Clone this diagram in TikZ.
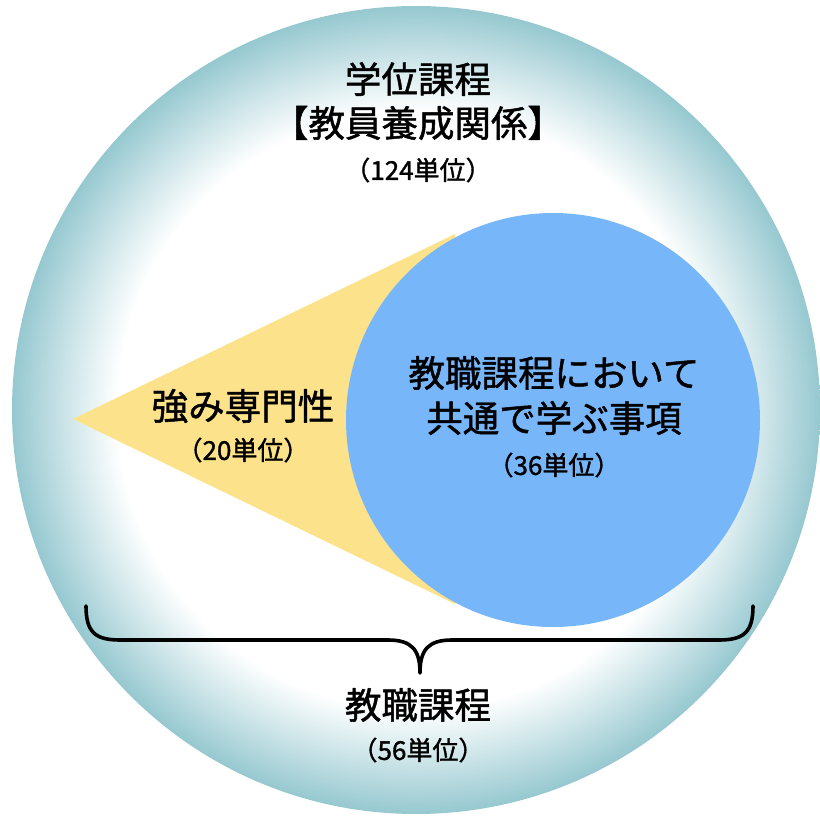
\documentclass[tikz,border=0pt]{standalone}
\usepackage{fontspec}
\setmainfont{Noto Sans CJK JP}
\newfontfamily\labelfont[FakeBold=1.3]{Noto Sans CJK JP}
\usetikzlibrary{positioning}
\definecolor{rimteal}{RGB}{150,200,208}
\definecolor{fanyellow}{RGB}{252,226,138}
\definecolor{coreblue}{RGB}{120,182,250}
\pgfdeclareradialshading{rimshade}{\pgfpoint{0bp}{0bp}}{color(0bp)=(white); color(18.5bp)=(white); color(21.5bp)=(rimteal!45); color(25bp)=(rimteal); color(50bp)=(rimteal)}
\tikzset{
  bigtxt/.style={font=\labelfont\fontsize{36.5}{40}\selectfont,inner sep=0pt},
  unittxt/.style={font=\labelfont\fontsize{26}{30}\selectfont,inner sep=0pt},
  bracepen/.style={line width=3.6pt}
}
\begin{document}
\begin{tikzpicture}[x=1pt,y=-1pt,line join=round,line cap=round]
    \useasboundingbox (0,0) rectangle (820,817);
    % outer ring
    \shade[shading=rimshade] (416,410) circle (404);
    % fan and core
    \fill[fanyellow] (73,419)--(455,234)--(455,604)--cycle;
    \fill[coreblue] (553,420) circle (207);
    % texts
    \node[bigtxt] (degree) at (418,79) {学位課程};
    \node[bigtxt] (teacher) at (418,123) {【教員養成関係】};
    \node[unittxt] (degunits) at (418,170) {（124単位）};
    \node[bigtxt] (strength) at (243,406) {強み専門性};
    \node[unittxt] (strunits) at (243,450) {（20単位）};
    \node[bigtxt] (common1) at (554,373) {教職課程において};
    \node[bigtxt] (common2) at (554,418) {共通で学ぶ事項};
    \node[unittxt] (comunits) at (554,465) {（36単位）};
    \node[bigtxt] (course) at (418,705) {教職課程};
    \node[unittxt] (couunits) at (418,750) {（56単位）};
    % brace
    \coordinate (bl) at (86,606);
    \coordinate (br) at (753,606);
    \coordinate (tip) at (420,673);
    \draw[bracepen] (bl) .. controls (86,632) and (95,640) .. (120,640) -- (388,640)
        .. controls (412,640) and (420,650) .. (tip)
        .. controls (420,650) and (428,640) .. (452,640) -- (719,640)
        .. controls (744,640) and (753,632) .. (br);
\end{tikzpicture}
\end{document}
